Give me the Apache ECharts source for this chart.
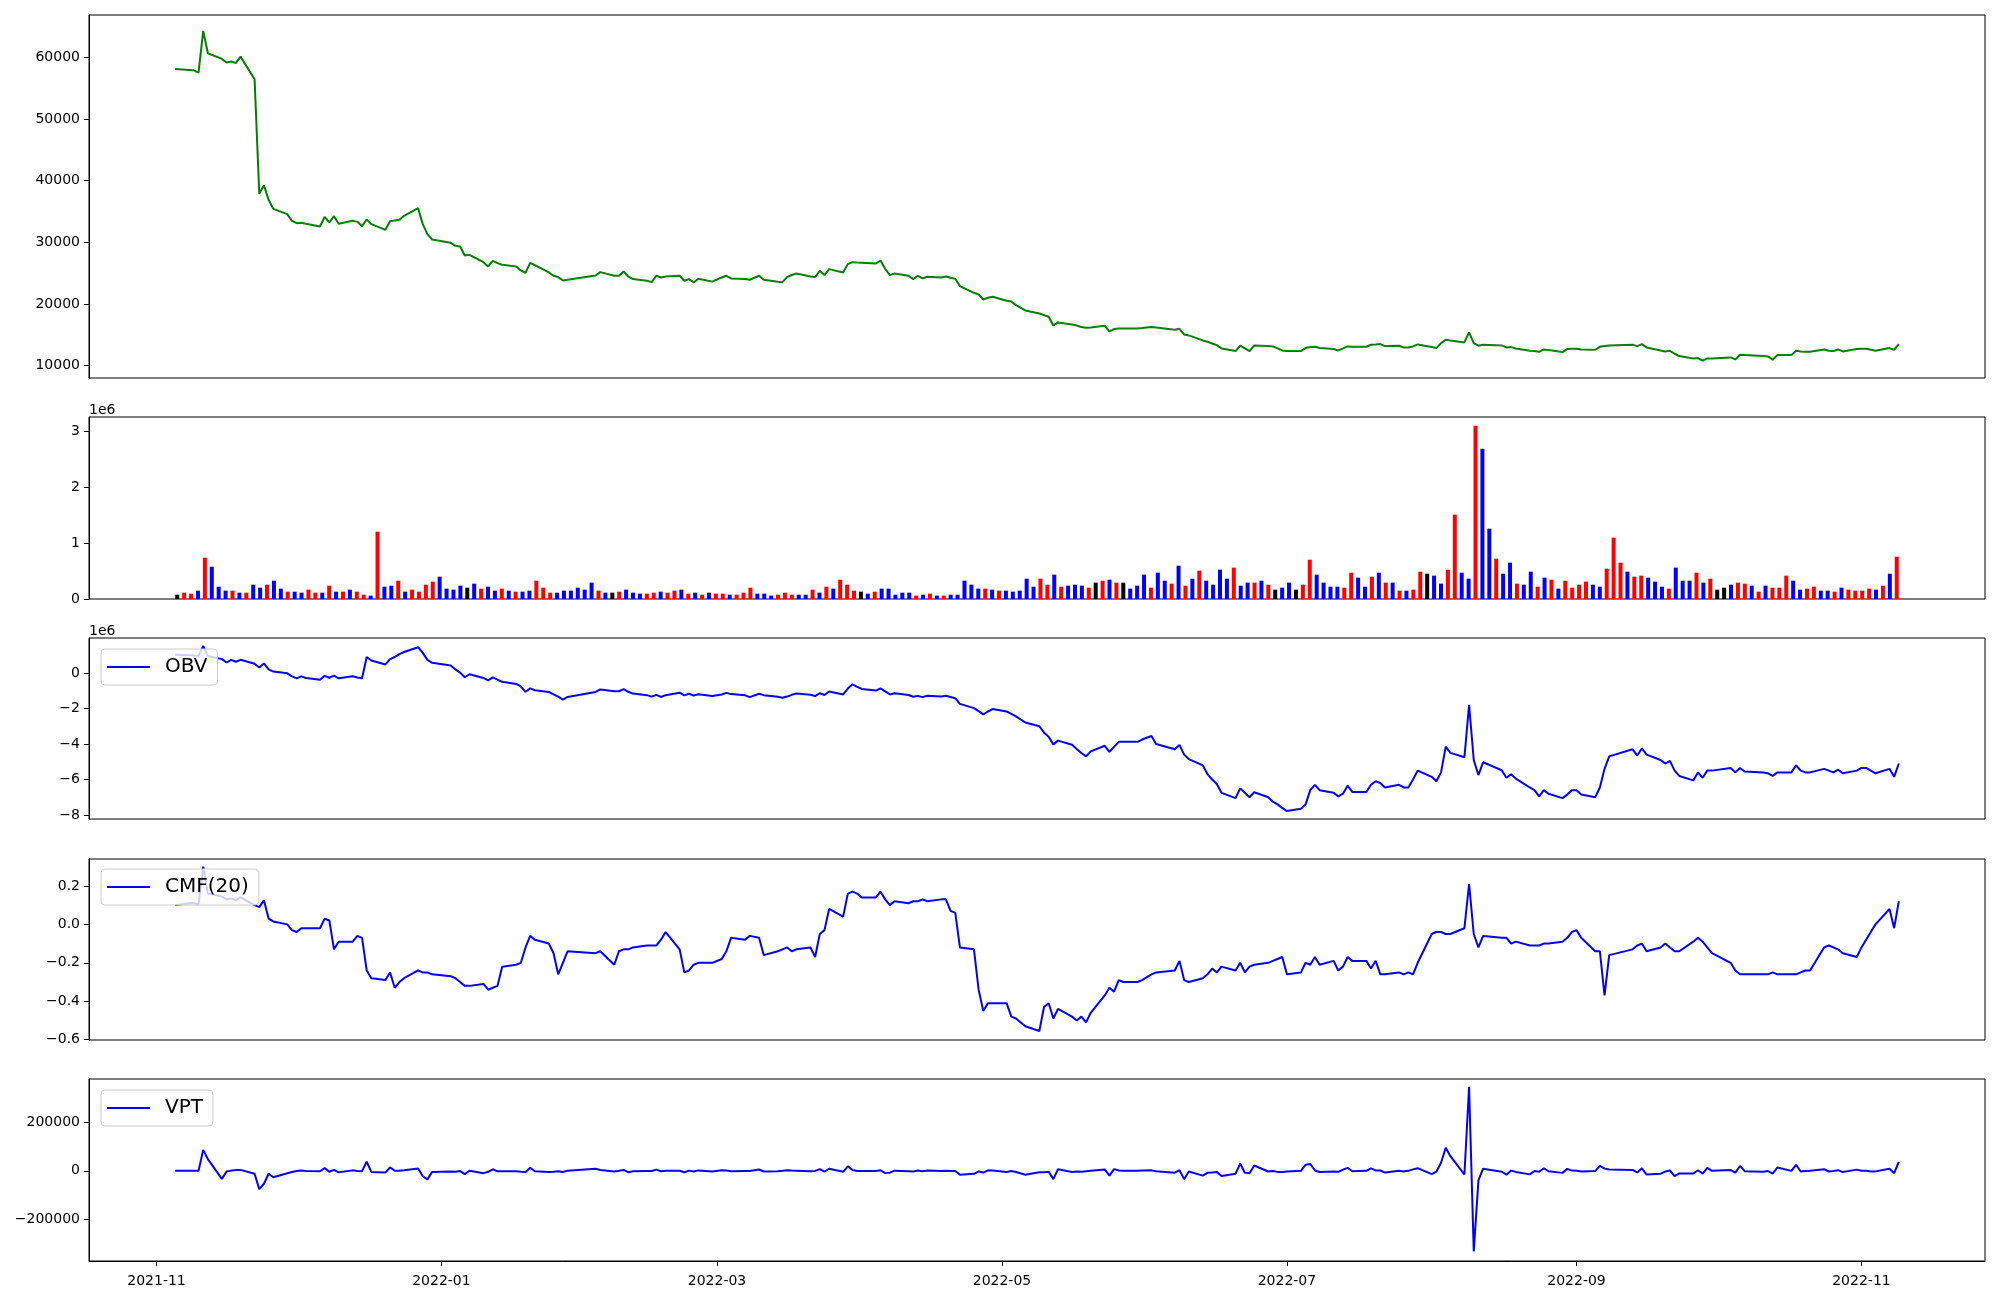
<!DOCTYPE html>
<html><head><meta charset="utf-8">
<script src="https://cdn.jsdelivr.net/npm/echarts@6/dist/echarts.min.js"></script>
<style>html,body{margin:0;padding:0;background:#fff}#c{width:2000px;height:1300px}</style>
</head><body><div id="c"></div>
<script>
// ---- data ----
const startDate = '2021-11-05';
const endDate = '2022-11-09';
const holidays = ['2021-12-31','2022-01-31','2022-02-01','2022-02-02','2022-03-01','2022-03-09','2022-05-05','2022-06-01','2022-06-06','2022-08-15','2022-09-09','2022-09-12','2022-10-03','2022-10-10'];

const price = [
58110,57950,57890,57520,64270,60650,59730,59140,59300,59080,
60100,56430,37860,39260,36890,35430,34570,33490,33110,33160,
33000,32570,34130,33220,34240,33000,33490,33320,32620,33700,
32950,32030,33430,33540,33650,34300,35540,32950,31330,30460,
29920,29440,29330,27870,27980,26790,26090,27010,26630,26360,
26090,25440,25060,26680,26300,25120,24580,24360,23820,23930,
24630,25170,24580,24580,25280,24470,24040,23770,23550,24580,
24310,24470,24580,23770,24040,23500,24090,23630,24310,24580,
24150,24040,23930,24580,23930,23600,23550,24360,24700,24950,
24470,24360,25390,24690,25660,25120,26470,26790,26740,26700,
26570,27060,25710,24690,24950,24580,24040,24580,24150,24420,
24310,24470,24250,24090,22900,21820,21550,20740,21010,21170,
20530,20420,19820,18960,18470,18200,17930,16530,17020,16690,
16530,16260,16150,16200,16480,15560,15940,16040,16040,16040,
16100,16260,16200,15830,15990,15070,14910,14100,13880,13610,
13340,12800,12370,13240,12800,12370,13290,13180,13130,12800,
12480,12370,12370,12860,13020,13070,12860,12700,12480,12800,
13130,13070,13070,13400,13450,13510,13180,13240,12970,12970,
13130,13450,13020,12860,13670,14210,14100,13780,15400,13670,
13240,13400,13290,12970,13020,12800,12420,12370,12260,12640,
12530,12210,12700,12750,12750,12640,12590,13070,13180,13290,
13400,13180,13510,12970,12480,12320,12420,11940,11560,11180,
11240,10810,11180,11180,11350,11020,11780,11720,11560,11510,
10970,11720,11720,12420,12320,12260,12260,12640,12420,12370,
12640,12320,12700,12750,12750,12590,12420,12860,12590,13510];

const volume = [
77000,113000,95000,149000,738000,577000,220000,149000,149000,113000,
113000,256000,202000,256000,327000,185000,131000,131000,113000,167000,
113000,113000,238000,131000,131000,167000,131000,77000,60000,1202000,
220000,238000,327000,131000,167000,131000,256000,310000,399000,185000,
167000,238000,202000,274000,185000,220000,149000,185000,149000,131000,
131000,149000,327000,202000,113000,113000,149000,149000,202000,167000,
292000,149000,113000,113000,131000,167000,113000,95000,95000,113000,
131000,113000,149000,167000,95000,113000,77000,113000,95000,95000,
77000,77000,113000,202000,95000,95000,60000,77000,113000,77000,
77000,77000,167000,113000,220000,185000,345000,256000,149000,131000,
95000,131000,185000,185000,77000,113000,113000,60000,77000,95000,
60000,60000,77000,77000,327000,256000,185000,185000,167000,149000,
149000,131000,149000,363000,220000,363000,256000,435000,220000,238000,
256000,238000,202000,292000,327000,345000,292000,292000,185000,238000,
435000,202000,470000,327000,274000,595000,238000,363000,506000,327000,
256000,524000,363000,560000,238000,292000,292000,327000,256000,167000,
202000,292000,167000,256000,702000,435000,292000,220000,220000,202000,
470000,381000,220000,399000,470000,292000,292000,149000,149000,167000,
488000,452000,417000,274000,524000,1506000,470000,363000,3095000,2685000,
1256000,720000,452000,649000,274000,256000,488000,220000,381000,345000,
185000,327000,202000,256000,310000,256000,220000,542000,1095000,649000,
488000,399000,417000,381000,310000,220000,185000,560000,327000,327000,
470000,292000,363000,167000,202000,256000,292000,274000,238000,131000,
238000,202000,202000,417000,327000,167000,185000,220000,149000,149000,
131000,202000,167000,149000,149000,185000,167000,238000,452000,756000];

// bar colour per day: r = red, b = blue, k = black
const volColor = ('krrbrbbbrb'+'rbbrbbrbbr'+'rbrbrbrrbr'+'bbrbrrrrbb'+'bbkbrbbrbr'+
  'bbrrrbbbbb'+'brbkrbbbrr'+'brrbrbrbrr'+'brrrbbbrrr'+'bbrbrbrrrk'+
  'brbbbbbrbr'+'brbbbbbrbr'+'bbbbbrrbrb'+'bbrkrbrkbb'+'brbbrbrbrb'+
  'bbbrbbrbrk'+'bbkrrbbbbr'+'rbbrbrbrbr'+'rkbbrrbbrb'+'brbbrbbrbr'+
  'brrrrbbrrr'+'brrbbbrbbb'+'rbrkkbrrbr'+'brrrbbrrbb'+'rbrrrrbrbr').split('');

// OBV in units of 1e6 (as on the axis)
const obv = [
1.02,1.00,0.99,0.96,1.52,0.96,0.78,0.59,0.74,0.63,
0.74,0.52,0.31,0.54,0.20,0.08,-0.02,-0.19,-0.30,-0.19,
-0.28,-0.38,-0.16,-0.27,-0.15,-0.30,-0.18,-0.25,-0.30,0.90,
0.70,0.48,0.78,0.90,1.06,1.18,1.45,1.13,0.74,0.57,
0.42,0.20,0.02,-0.24,-0.07,-0.28,-0.42,-0.25,-0.38,-0.50,
-0.62,-0.76,-1.06,-0.87,-0.97,-1.07,-1.20,-1.33,-1.50,-1.35,
-1.07,-0.93,-1.03,-1.03,-0.91,-1.06,-1.16,-1.25,-1.33,-1.23,
-1.35,-1.25,-1.11,-1.26,-1.17,-1.27,-1.20,-1.30,-1.21,-1.12,
-1.19,-1.26,-1.36,-1.17,-1.25,-1.34,-1.40,-1.33,-1.23,-1.16,
-1.23,-1.30,-1.14,-1.24,-1.04,-1.21,-0.88,-0.64,-0.78,-0.90,
-0.99,-0.87,-1.04,-1.21,-1.14,-1.24,-1.34,-1.29,-1.36,-1.28,
-1.33,-1.28,-1.35,-1.42,-1.74,-1.98,-2.15,-2.33,-2.17,-2.03,
-2.17,-2.30,-2.44,-2.79,-3.00,-3.35,-3.60,-4.02,-3.81,-4.04,
-4.28,-4.51,-4.70,-4.42,-4.10,-4.44,-4.16,-3.88,-3.88,-3.88,
-3.75,-3.55,-4.00,-4.30,-4.05,-4.60,-4.85,-5.20,-5.70,-6.00,
-6.25,-6.75,-7.05,-6.50,-6.75,-7.00,-6.72,-7.00,-7.25,-7.40,
-7.60,-7.78,-7.65,-7.40,-6.60,-6.30,-6.60,-6.75,-6.95,-6.80,
-6.35,-6.70,-6.70,-6.30,-6.10,-6.20,-6.45,-6.30,-6.45,-6.45,
-6.00,-5.50,-5.85,-6.10,-5.60,-4.15,-4.50,-4.75,-1.80,-4.90,
-5.75,-5.03,-5.48,-5.90,-5.70,-5.95,-6.45,-6.60,-6.95,-6.60,
-6.80,-7.05,-6.85,-6.60,-6.60,-6.85,-7.00,-6.45,-5.40,-4.70,
-4.30,-4.65,-4.25,-4.60,-4.90,-5.10,-4.95,-5.50,-5.80,-6.05,
-5.60,-5.90,-5.50,-5.50,-5.35,-5.60,-5.35,-5.55,-5.60,-5.65,
-5.80,-5.60,-5.60,-5.20,-5.50,-5.60,-5.60,-5.40,-5.50,-5.60,
-5.45,-5.65,-5.50,-5.35,-5.35,-5.50,-5.65,-5.40,-5.85,-5.10];

const cmf = [
0.10,0.11,0.11,0.105,0.30,0.16,0.145,0.13,0.135,0.125,
0.14,0.10,0.09,0.125,0.03,0.015,0.00,-0.03,-0.04,-0.02,
-0.02,-0.02,0.03,0.02,-0.13,-0.09,-0.09,-0.06,-0.07,-0.24,
-0.28,-0.29,-0.25,-0.33,-0.30,-0.28,-0.24,-0.25,-0.25,-0.26,
-0.27,-0.28,-0.30,-0.32,-0.32,-0.31,-0.34,-0.33,-0.32,-0.22,
-0.21,-0.20,-0.12,-0.06,-0.08,-0.10,-0.15,-0.26,-0.20,-0.14,
-0.15,-0.14,-0.21,-0.14,-0.13,-0.13,-0.12,-0.11,-0.11,-0.11,
-0.08,-0.04,-0.13,-0.25,-0.24,-0.21,-0.20,-0.20,-0.18,-0.14,
-0.07,-0.08,-0.06,-0.07,-0.16,-0.14,-0.13,-0.12,-0.14,-0.13,
-0.12,-0.17,-0.05,-0.03,0.08,0.04,0.16,0.17,0.16,0.14,
0.14,0.17,0.13,0.10,0.12,0.11,0.12,0.12,0.13,0.12,
0.13,0.13,0.07,0.06,-0.12,-0.13,-0.34,-0.45,-0.41,-0.41,
-0.41,-0.48,-0.49,-0.53,-0.555,-0.43,-0.41,-0.49,-0.44,-0.48,
-0.50,-0.48,-0.51,-0.46,-0.37,-0.33,-0.35,-0.29,-0.30,-0.30,
-0.29,-0.26,-0.25,-0.24,-0.19,-0.29,-0.30,-0.28,-0.26,-0.23,
-0.25,-0.22,-0.24,-0.20,-0.25,-0.22,-0.21,-0.20,-0.19,-0.18,
-0.17,-0.26,-0.25,-0.20,-0.21,-0.17,-0.21,-0.19,-0.24,-0.22,
-0.17,-0.19,-0.19,-0.23,-0.19,-0.26,-0.26,-0.25,-0.26,-0.25,
-0.26,-0.20,-0.05,-0.04,-0.04,-0.05,-0.05,-0.02,0.21,-0.05,
-0.12,-0.06,-0.07,-0.07,-0.10,-0.09,-0.11,-0.11,-0.11,-0.10,
-0.10,-0.09,-0.07,-0.04,-0.03,-0.07,-0.14,-0.14,-0.37,-0.16,
-0.13,-0.11,-0.10,-0.14,-0.12,-0.10,-0.12,-0.14,-0.14,-0.09,
-0.07,-0.09,-0.12,-0.15,-0.20,-0.24,-0.26,-0.26,-0.26,-0.26,
-0.25,-0.26,-0.26,-0.26,-0.25,-0.24,-0.24,-0.12,-0.11,-0.12,
-0.13,-0.15,-0.17,-0.12,-0.08,-0.04,0.00,0.08,-0.02,0.12];

const vpt = [
0,0,0,0,86000,48000,-33000,-3000,1000,3000,
4000,-12000,-75000,-53000,-12000,-26000,-10000,-5000,-1000,1000,
-500,-1500,11000,-3500,4000,-6000,2000,-400,-1300,38000,
-5000,-6600,14000,400,500,2500,9300,-22000,-35000,-5000,
-3000,-3800,-800,-13600,700,-9400,-3900,6500,-2100,-1300,
-1300,-3700,-4900,13000,-1600,-5000,-3200,-1300,-4500,800,
8500,3300,-2700,0,3700,-5300,-2000,-1000,-900,4900,
-1400,700,700,-5500,1000,-2500,1900,-2200,2700,1000,
-1400,-400,-500,5500,-2500,-1300,0,2600,1600,800,
-1500,-300,7000,-3100,8600,-3900,18600,3100,-300,-200,
-500,2400,-9300,-7300,800,-1700,-2500,1400,-1400,1000,
-300,400,-700,-500,-16000,-12000,-2300,-7000,2200,1100,
-4500,-700,-4400,-15700,-5700,-5300,-3800,-34000,6500,-4600,
-2500,-3900,-1400,900,5700,-19300,7100,1800,0,0,
1600,2000,-1700,-7500,2800,-34000,-2500,-19700,-7900,-6300,
-5100,-21000,-12200,30000,-7900,-9800,21800,-2700,-1000,-4200,
-5000,-2600,0,25000,28000,1700,-4700,-2700,-3800,5200,
12000,-1700,0,10100,1800,1300,-7100,700,-3000,0,
6000,11000,-13300,-3400,33000,95000,60000,-15000,345000,-330000,
-39500,8700,-3700,-15600,1000,-4300,-14500,-900,-3400,10700,
-1600,-8300,8100,1000,0,-2200,-900,20700,9200,5400,
4000,-6600,10400,-15300,-11700,-2800,1500,-21600,-10400,-10800,
2500,-11200,12400,0,3100,-7400,20100,-1400,-3300,-600,
-11200,13800,0,24900,-2700,-800,0,6800,-2600,-600,
2900,-5100,5100,600,0,-2300,-2200,8400,-9500,37000];

const xTickDates = ['2021-11-01','2022-01-01','2022-03-01','2022-05-01','2022-07-01','2022-09-01','2022-11-01'];
const xTickLabels = ['2021-11','2022-01','2022-03','2022-05','2022-07','2022-09','2022-11'];
const priceTicks = [10000,20000,30000,40000,50000,60000];
const volTicks = [0,1e6,2e6,3e6];
const obvTicks = [-8,-6,-4,-2,0];
const cmfTicks = [-0.6,-0.4,-0.2,0,0.2];
const vptTicks = [-200000,0,200000];

// ---- build ----
const DAY = 86400000;
const toUTC = s => { const [y,m,d] = s.split('-').map(Number); return Date.UTC(y, m-1, d); };
const hol = new Set(holidays);
const dates = [];
for (let t = toUTC(startDate); t <= toUTC(endDate); t += DAY) {
  const dt = new Date(t); const wd = dt.getUTCDay();
  if (wd === 0 || wd === 6 || hol.has(dt.toISOString().slice(0,10))) continue;
  dates.push(t);
}
const span = dates[dates.length-1] - dates[0];
const xMin = dates[0] - 0.05*span, xMax = dates[dates.length-1] + 0.05*span;
const xTickVals = xTickDates.map(toUTC);
const nB = volume.length;
const barMin = -0.3 - 0.05*(nB - 1 + 0.6), barMax = nB - 1 + 0.3 + 0.05*(nB - 1 + 0.6);

const FONT = 'DejaVu Sans';
const minus = v => (v < 0 ? '\u2212' : '');
const L = 89, R = 15;
const gridDefs = [[15,363],[417,182],[638,181],[859,181],[1079,182]];
const grid = gridDefs.map(([t,h]) => ({left:L, right:R, top:t, height:h, show:true, borderColor:'#000', borderWidth:1,
  backgroundColor:'rgba(0,0,0,0)', containLabel:false, outerBoundsMode:'none'}));

const yAx = (gi, min, max, ticks, fmt) => ({type:'value', gridIndex:gi, min, max,
  axisLine:{show:true, onZero:false, lineStyle:{color:'#000', width:1}},
  axisTick:{show:true, length:5, inside:false, lineStyle:{color:'#000', width:1}, customValues:ticks},
  axisLabel:{show:true, customValues:ticks, formatter:fmt, color:'#000', fontSize:14, fontFamily:FONT, margin:9},
  splitLine:{show:false}});
const hiddenX = (gi, min, max) => ({type:'value', gridIndex:gi, min, max, show:false, splitLine:{show:false}});

const xAxis = [
  hiddenX(0, xMin, xMax),
  hiddenX(1, barMin, barMax),
  hiddenX(2, xMin, xMax),
  hiddenX(3, xMin, xMax),
  {type:'value', gridIndex:4, min:xMin, max:xMax,
   axisLine:{show:true, onZero:false, lineStyle:{color:'#000', width:1}},
   axisTick:{show:true, length:5, lineStyle:{color:'#000', width:1}, customValues:xTickVals},
   axisLabel:{show:true, customValues:xTickVals, color:'#000', fontSize:14, fontFamily:FONT, margin:13,
     formatter: v => { const k = xTickVals.indexOf(v); return k >= 0 ? xTickLabels[k] : ''; }},
   splitLine:{show:false}}
];
const yAxis = [
  yAx(0, 8010, 66850, priceTicks, v => String(v)),
  yAx(1, 0, 3.25e6, volTicks, v => String(Math.round(v/1e6))),
  yAx(2, -8.225, 1.97, obvTicks, v => minus(v) + Math.abs(v)),
  yAx(3, -0.6016, 0.34, cmfTicks, v => minus(v) + Math.abs(v).toFixed(1)),
  yAx(4, -369600, 376600, vptTicks, v => minus(v) + Math.abs(v))
];

const colMap = {r:'#ff0000', b:'#0000ff', k:'#000000'};
const lineS = (name, xi, arr, color) => ({name, type:'line', xAxisIndex:xi, yAxisIndex:xi,
  data: arr.map((v,i) => [dates[i], v]), symbol:'none', showSymbol:false,
  lineStyle:{color, width:2}, itemStyle:{color}, color, clip:true, animation:false});

const series = [
  lineS('Close', 0, price, '#008000'),
  {name:'Volume', type:'bar', xAxisIndex:1, yAxisIndex:1, barWidth:4, animation:false,
   data: volume.map((v,i) => ({value:[i, v], itemStyle:{color: colMap[volColor[i]]}}))},
  lineS('OBV', 2, obv, '#0000ff'),
  lineS('CMF(20)', 3, cmf, '#0000ff'),
  lineS('VPT', 4, vpt, '#0000ff')
];

const legendBase = {orient:'horizontal', left:101, icon:'rect', itemWidth:43, itemHeight:2, padding:[8,10,8,6],
  backgroundColor:'rgba(255,255,255,0.8)', borderColor:'#cccccc', borderWidth:1, borderRadius:4,
  selectedMode:false, textStyle:{fontSize:20, fontFamily:FONT, color:'#000', padding:[0,0,0,10]}};
const legend = [
  Object.assign({}, legendBase, {data:['OBV'], top:649}),
  Object.assign({}, legendBase, {data:['CMF(20)'], top:869}),
  Object.assign({}, legendBase, {data:['VPT'], top:1090})
];

const chart = echarts.init(document.getElementById('c'), null, {renderer:'canvas'});
chart.setOption({
  animation:false, backgroundColor:'#ffffff',
  grid, xAxis, yAxis, series, legend,
  graphic:[
    {type:'text', left:89, top:403, style:{text:'1e6', font:'14px "DejaVu Sans"', fill:'#000'}},
    {type:'text', left:89, top:624, style:{text:'1e6', font:'14px "DejaVu Sans"', fill:'#000'}}
  ]
});
</script></body></html>
